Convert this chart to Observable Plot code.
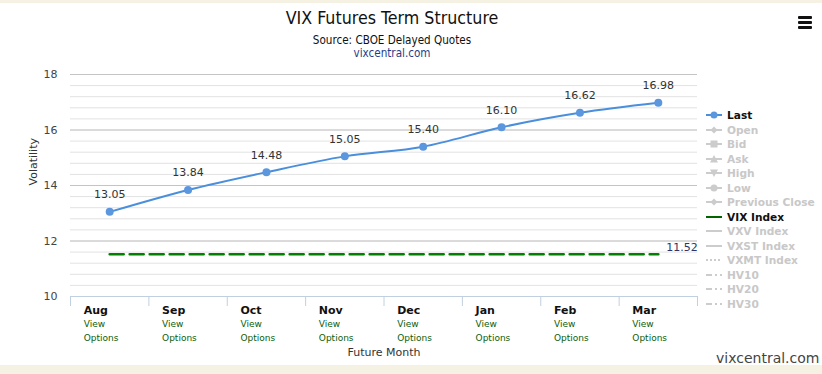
<!DOCTYPE html>
<html>
<head>
<meta charset="utf-8">
<script src="https://cdn.jsdelivr.net/npm/d3@7"></script>
<script src="https://cdn.jsdelivr.net/npm/@observablehq/plot@0.6"></script>
<style>
  html, body { margin: 0; padding: 0; background: #f5f2e4; }
  #wrap { position: relative; width: 822px; height: 374px; overflow: hidden; }
  #card { position: absolute; left: 0; top: 3px; width: 822px; height: 362px; background: #fff; }
  #chart { position: absolute; left: 0; top: 0; }
  .t { position: absolute; left: 0; width: 784px; text-align: center; font-family: "DejaVu Sans Condensed", "DejaVu Sans", sans-serif; }
  #title { top: 5px; font-size: 17.7px; color: #111; }
  #sub { top: 30px; font-size: 11.6px; color: #111; }
  #site { top: 43px; font-size: 11.6px; color: #1f3d8c; }
  #menu { position: absolute; left: 798px; top: 13px; width: 14px; }
  #menu div { height: 2.5px; background: #111; margin-bottom: 2.5px; border-radius: 1px; }
  #credit { position: absolute; left: 716px; top: 347px; font-family: "DejaVu Sans", sans-serif; font-size: 14px; color: #444; }
  #legend { position: absolute; left: 706px; top: 105px; font-family: "DejaVu Sans", sans-serif; font-size: 10.6px; font-weight: bold; }
  #legend .row { height: 14.5px; line-height: 14px; white-space: nowrap; display: flex; align-items: center; }
  #legend svg { margin-right: 5px; }
</style>
</head>
<body>
<div id="wrap">
  <div id="card">
    <div id="chart"></div>
    <div class="t" id="title">VIX Futures Term Structure</div>
    <div class="t" id="sub">Source: CBOE Delayed Quotes</div>
    <div class="t" id="site">vixcentral.com</div>
    <div id="menu"><div></div><div></div><div></div></div>
    <div id="legend"></div>
    <div id="credit">vixcentral.com</div>
  </div>
</div>
<script>
const months = ["Aug", "Sep", "Oct", "Nov", "Dec", "Jan", "Feb", "Mar"];
const last = [13.05, 13.84, 14.48, 15.05, 15.40, 16.10, 16.62, 16.98];
const vixIndex = 11.52;
const yTicks = [10, 12, 14, 16, 18];
const linkLines = ["View", "Options"];
const legendNames = ["Last", "Open", "Bid", "Ask", "High", "Low", "Previous Close",
  "VIX Index", "VXV Index", "VXST Index", "VXMT Index", "HV10", "HV20", "HV30"];
const legendActive = ["Last", "VIX Index"];

const rows = months.map((m, i) => ({i, month: m, last: last[i], vix: vixIndex}));
const minorGrid = d3.range(10, 18.001, 0.4).map(v => +v.toFixed(1));
const bounds = d3.range(months.length + 1).map(i => i - 0.5);

const font = "DejaVu Sans, sans-serif";
const chart = Plot.plot({
  width: 822,
  height: 362,
  marginTop: 71,
  marginBottom: 69,
  marginLeft: 70,
  marginRight: 125,
  style: {fontFamily: font, background: "transparent", overflow: "visible"},
  x: {type: "linear", domain: [-0.5, months.length - 0.5], axis: null},
  y: {domain: [10, 18], axis: null},
  marks: [
    Plot.ruleY(minorGrid, {stroke: "#e2e2e2", strokeWidth: 1}),
    Plot.ruleY(yTicks, {stroke: "#c4c4c4", strokeWidth: 1}),
    Plot.axisY({ticks: yTicks, tickSize: 0, tickPadding: 13, fontSize: 11, fill: "#444", label: null}),
    Plot.text(["Volatility"], {frameAnchor: "left", rotate: -90, dx: -37, fontSize: 11, fill: "#333"}),
    Plot.ruleY([10], {stroke: "#c0d0e0", strokeWidth: 1}),
    Plot.axisX({ticks: bounds, tickSize: 10, tickFormat: () => "", stroke: "#c0d0e0", label: null}),
    Plot.line(rows, {x: "i", y: "vix", stroke: "#008000", strokeWidth: 2.6, strokeDasharray: "14,6"}),
    Plot.text(rows.slice(-1), {x: "i", y: "vix", text: d => d.vix.toFixed(2), textAnchor: "start", dx: 8, dy: -7, fontSize: 11, fill: "#333366"}),
    Plot.line(rows, {x: "i", y: "last", stroke: "#4a8fdc", strokeWidth: 2, curve: "monotone-x"}),
    Plot.dot(rows, {x: "i", y: "last", r: 4, fill: "#5b97df", stroke: "none"}),
    Plot.text(rows, {x: "i", y: "last", text: d => d.last.toFixed(2), dy: -17, fontSize: 11, fill: "#333"}),
    Plot.text(rows, {x: "i", y: 10, text: "month", textAnchor: "start", dx: -26, dy: 14, fontSize: 11, fontWeight: "bold", fill: "#111"}),
    Plot.text(rows, {x: "i", y: 10, text: () => linkLines[0], textAnchor: "start", dx: -26, dy: 28, fontSize: 9, fill: "#0b5e0b"}),
    Plot.text(rows, {x: "i", y: 10, text: () => linkLines[1], textAnchor: "start", dx: -26, dy: 42, fontSize: 9, fill: "#0b5e0b"}),
    Plot.text(["Future Month"], {frameAnchor: "bottom", dy: 59, fontSize: 11, fill: "#333"})
  ]
});
document.getElementById("chart").appendChild(chart);

// legend
const symbols = {
  "Last": '<line x1="0" y1="5" x2="16" y2="5" stroke="#4a8fdc" stroke-width="2"/><circle cx="8" cy="5" r="3.5" fill="#5b97df"/>',
  "Open": '<line x1="0" y1="5" x2="16" y2="5" stroke="#ccc" stroke-width="2"/><path d="M8 1.5L11.5 5L8 8.5L4.5 5Z" fill="#ccc"/>',
  "Bid": '<line x1="0" y1="5" x2="16" y2="5" stroke="#ccc" stroke-width="2"/><rect x="4.5" y="1.5" width="7" height="7" fill="#ccc"/>',
  "Ask": '<line x1="0" y1="5" x2="16" y2="5" stroke="#ccc" stroke-width="2"/><path d="M8 1L12 8.5L4 8.5Z" fill="#ccc"/>',
  "High": '<line x1="0" y1="5" x2="16" y2="5" stroke="#ccc" stroke-width="2"/><path d="M4 1.5L12 1.5L8 9Z" fill="#ccc"/>',
  "Low": '<line x1="0" y1="5" x2="16" y2="5" stroke="#ccc" stroke-width="2"/><circle cx="8" cy="5" r="3.5" fill="#ccc"/>',
  "Previous Close": '<line x1="0" y1="5" x2="16" y2="5" stroke="#ccc" stroke-width="2"/><path d="M8 1.5L11.5 5L8 8.5L4.5 5Z" fill="#ccc"/>',
  "VIX Index": '<line x1="0" y1="5" x2="16" y2="5" stroke="#006400" stroke-width="2"/>',
  "VXV Index": '<line x1="0" y1="5" x2="16" y2="5" stroke="#ccc" stroke-width="2"/>',
  "VXST Index": '<line x1="0" y1="5" x2="16" y2="5" stroke="#ccc" stroke-width="2"/>',
  "VXMT Index": '<line x1="0" y1="5" x2="16" y2="5" stroke="#ccc" stroke-width="2" stroke-dasharray="2,2"/>',
  "HV10": '<line x1="0" y1="5" x2="16" y2="5" stroke="#ccc" stroke-width="2" stroke-dasharray="6,3,2,3"/>',
  "HV20": '<line x1="0" y1="5" x2="16" y2="5" stroke="#ccc" stroke-width="2" stroke-dasharray="6,3,2,3"/>',
  "HV30": '<line x1="0" y1="5" x2="16" y2="5" stroke="#ccc" stroke-width="2" stroke-dasharray="6,3,2,3"/>'
};
const legend = document.getElementById("legend");
legendNames.forEach(n => {
  const row = document.createElement("div");
  row.className = "row";
  const on = legendActive.includes(n);
  row.style.color = on ? "#111" : "#c8c8c8";
  row.innerHTML = `<svg width="16" height="10">${symbols[n]}</svg><span>${n}</span>`;
  legend.appendChild(row);
});
</script>
</body>
</html>
